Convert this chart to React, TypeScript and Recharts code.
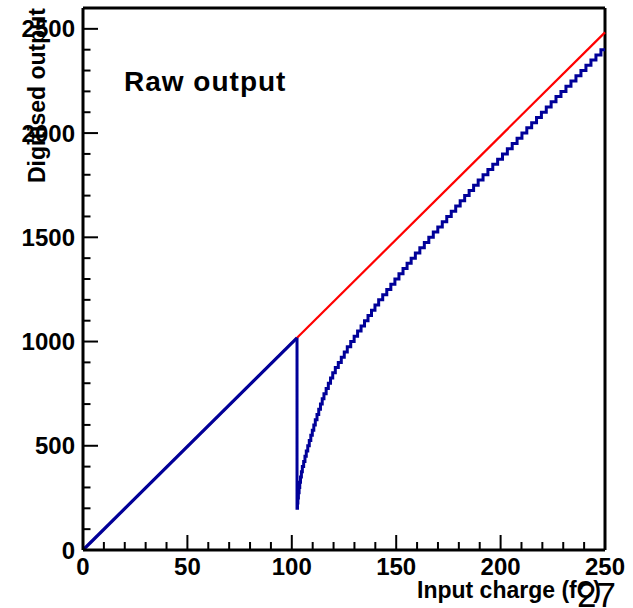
import React from 'react';
import { LineChart, Line, XAxis, YAxis, ReferenceLine } from 'recharts';

// ideal (linear) response
const IDEAL_CHARGE = [0, 250];
const IDEAL_OUTPUT = [0, 2483];

// raw output below the gain switch
const LINEAR_CHARGE = [0, 102.5];
const LINEAR_OUTPUT = [0, 1018];

// raw output after the gain switch: digitised levels and the charge where each level starts
const OUTPUT_LEVELS = [
  200, 225, 250, 275, 300, 325, 350, 375, 400, 425,
  450, 475, 500, 525, 550, 575, 600, 625, 650, 675,
  700, 725, 750, 775, 800, 825, 850, 875, 900, 925,
  950, 975, 1000, 1025, 1050, 1075, 1100, 1125, 1150, 1175,
  1200, 1225, 1250, 1275, 1300, 1325, 1350, 1375, 1400, 1425,
  1450, 1475, 1500, 1525, 1550, 1575, 1600, 1625, 1650, 1675,
  1700, 1725, 1750, 1775, 1800, 1825, 1850, 1875, 1900, 1925,
  1950, 1975, 2000, 2025, 2050, 2075, 2100, 2125, 2150, 2175,
  2200, 2225, 2250, 2275, 2300, 2325, 2350, 2375, 2400
];
const LEVEL_CHARGE = [
  102.5, 102.72, 102.91, 103.17, 103.49, 103.81, 104.17, 104.6, 105.05, 105.68,
  106.3, 106.93, 107.64, 108.37, 109.1, 109.82, 110.54, 111.25, 112.07, 112.9,
  113.73, 114.57, 115.4, 116.45, 117.5, 118.55, 119.6, 120.84, 122.27, 123.7,
  125.13, 126.57, 128.22, 129.86, 131.51, 133.17, 134.83, 136.5, 138.17, 139.83,
  141.6, 143.54, 145.49, 147.43, 149.38, 151.32, 153.27, 155.21, 157.16, 159.17,
  161.32, 163.47, 165.62, 167.77, 169.92, 172.07, 174.21, 176.36, 178.5, 180.64,
  182.79, 184.93, 187.07, 189.26, 191.59, 193.92, 196.25, 198.58, 200.91, 203.23,
  205.56, 207.89, 210.22, 212.55, 214.88, 217.21, 219.54, 221.87, 224.2, 226.53,
  228.91, 231.3, 233.7, 236.09, 238.48, 240.87, 243.27, 245.66, 248.05
];
const RANGE_END = 250;

const X_TICKS = [0, 10, 20, 30, 40, 50, 60, 70, 80, 90, 100, 110, 120, 130, 140, 150, 160, 170, 180, 190, 200, 210, 220, 230, 240, 250];
const X_LABELS = [0, 50, 100, 150, 200, 250];
const Y_TICKS = [0, 100, 200, 300, 400, 500, 600, 700, 800, 900, 1000, 1100, 1200, 1300, 1400, 1500, 1600, 1700, 1800, 1900, 2000, 2100, 2200, 2300, 2400, 2500];
const Y_LABELS = [0, 500, 1000, 1500, 2000, 2500];

const FONT = '"Liberation Sans", Arial, Helvetica, sans-serif';

const idealData = IDEAL_CHARGE.map((x, i) => ({ x, y: IDEAL_OUTPUT[i] }));
const linearData = LINEAR_CHARGE.map((x, i) => ({ x, y: LINEAR_OUTPUT[i] }));
const stepData = [
  { x: LINEAR_CHARGE[1], y: LINEAR_OUTPUT[1] },
  ...LEVEL_CHARGE.map((x, i) => ({ x, y: OUTPUT_LEVELS[i] })),
  { x: RANGE_END, y: OUTPUT_LEVELS[OUTPUT_LEVELS.length - 1] }
];

const XTick = (props: any) => {
  const { x, y, payload } = props;
  const major = X_LABELS.includes(payload.value);
  return (
    <g>
      <line x1={x} y1={y} x2={x} y2={y - (major ? 15 : 8)} stroke="#000" strokeWidth={2} />
      {major && (
        <text x={x} y={y + 25} textAnchor="middle" fontFamily={FONT} fontWeight="bold" fontSize={24} fill="#000">
          {payload.value}
        </text>
      )}
    </g>
  );
};

const YTick = (props: any) => {
  const { x, y, payload } = props;
  const major = Y_LABELS.includes(payload.value);
  return (
    <g>
      <line x1={x} y1={y} x2={x + (major ? 15 : 7.5)} y2={y} stroke="#000" strokeWidth={2} />
      {major && (
        <text x={x - 8} y={y} dy="0.36em" textAnchor="end" fontFamily={FONT} fontWeight="bold" fontSize={24} fill="#000">
          {payload.value}
        </text>
      )}
    </g>
  );
};

export default function App() {
  return (
    <div style={{ position: 'absolute', left: 0, top: 0, width: 633, height: 608, background: '#fff' }}>
      <LineChart width={633} height={608} margin={{ top: 8, right: 28, bottom: 0, left: 0 }}>
        <XAxis
          type="number"
          dataKey="x"
          domain={[0, 250]}
          ticks={X_TICKS}
          interval={0}
          height={58}
          tickSize={0}
          tickMargin={0}
          tickLine={false}
          axisLine={{ stroke: '#000', strokeWidth: 3 }}
          tick={(p: any) => <XTick {...p} />}
        />
        <YAxis
          type="number"
          dataKey="y"
          domain={[0, 2600]}
          ticks={Y_TICKS}
          interval={0}
          width={83}
          tickSize={0}
          tickMargin={0}
          tickLine={false}
          axisLine={{ stroke: '#000', strokeWidth: 3 }}
          tick={(p: any) => <YTick {...p} />}
        />
        <ReferenceLine x={250} stroke="#000" strokeWidth={3} />
        <ReferenceLine y={2600} stroke="#000" strokeWidth={3} />
        <Line data={idealData} dataKey="y" type="linear" stroke="#ff0000" strokeWidth={2.2} dot={false} isAnimationActive={false} />
        <Line data={linearData} dataKey="y" type="linear" stroke="#000099" strokeWidth={3.2} dot={false} isAnimationActive={false} />
        <Line data={stepData} dataKey="y" type="stepAfter" stroke="#000099" strokeWidth={3} dot={false} isAnimationActive={false} />
      </LineChart>
      <svg width={633} height={608} style={{ position: 'absolute', left: 0, top: 0, pointerEvents: 'none' }}>
        <text x={124} y={91} fontFamily={FONT} fontWeight="bold" fontSize={28} letterSpacing={1} fill="#000">Raw output</text>
        <text transform="translate(45,8) rotate(-90)" textAnchor="end" fontFamily={FONT} fontWeight="bold" fontSize={23} fill="#000">
          Digitised output
        </text>
        <text x={601} y={598} textAnchor="end" fontFamily={FONT} fontWeight="bold" fontSize={23} fill="#000">
          Input charge (fC)
        </text>
        <text x={577} y={607} fontFamily={FONT} fontSize={35} fill="#000">27</text>
      </svg>
    </div>
  );
}
